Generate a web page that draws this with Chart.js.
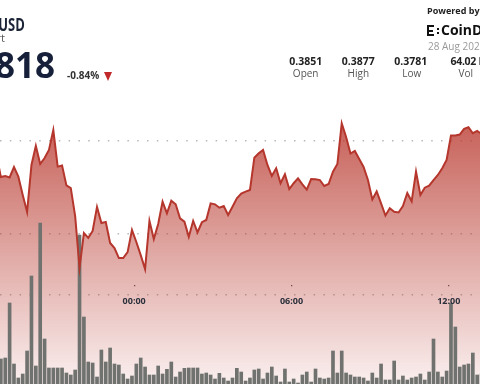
<!DOCTYPE html>
<html><head><meta charset="utf-8">
<script src="https://cdn.jsdelivr.net/npm/chart.js@4.4.1/dist/chart.umd.min.js"></script>
<style>
html,body{margin:0;padding:0;background:#fff;width:480px;height:384px;overflow:hidden;font-family:'Open Sans',sans-serif;}
#wrap{position:relative;width:480px;height:384px;overflow:hidden;}
canvas{position:absolute;left:0;top:0;}
.t{position:absolute;line-height:1;white-space:nowrap;}
.c{transform:translateX(-50%);}
.lg{position:absolute;background:#111;}
</style></head><body>
<div id="wrap">
<canvas id="c" width="480" height="384"></canvas>
<div class="t" style="right:455px;top:15px;font-size:18px;font-weight:700;color:#1b2336;transform:scaleX(0.72);transform-origin:right center">USD</div>
<div class="t" style="right:475px;top:32px;font-size:11px;color:#555">rt</div>
<div class="t" style="right:425px;top:47px;font-size:35px;font-weight:700;color:#17203a">0.3818</div>
<div class="t" style="left:67px;top:70px;font-size:10px;font-weight:700;color:#333">-0.84%</div>
<div style="position:absolute;left:104px;top:72px;width:0;height:0;border-left:4.5px solid transparent;border-right:4.5px solid transparent;border-top:9px solid #c0282a"></div>
<div class="t" style="left:427px;top:5.5px;font-size:9px;font-weight:700;color:#222">Powered by</div>
<div class="lg" style="left:427px;top:25px;width:2px;height:11px"></div>
<div class="lg" style="left:427px;top:25px;width:7px;height:2px"></div>
<div class="lg" style="left:429px;top:29.5px;width:4px;height:2px"></div>
<div class="lg" style="left:427px;top:34px;width:7px;height:2px"></div>
<div class="lg" style="left:436.5px;top:27.5px;width:2px;height:2px"></div>
<div class="lg" style="left:436.5px;top:32px;width:2px;height:2px"></div>
<div class="t" style="left:441px;top:23px;font-size:14px;font-weight:700;color:#111">CoinDesk</div>
<div class="t" style="left:428px;top:41.3px;font-size:10px;color:#999">28 Aug 2025</div>
<div class="t c" style="left:305.7px;top:55.5px;font-size:10.5px;font-weight:700;color:#222">0.3851</div>
<div class="t c" style="left:358.3px;top:55.5px;font-size:10.5px;font-weight:700;color:#222">0.3877</div>
<div class="t c" style="left:410.8px;top:55.5px;font-size:10.5px;font-weight:700;color:#222">0.3781</div>
<div class="t" style="left:450.5px;top:55.5px;font-size:10.5px;font-weight:700;color:#222;letter-spacing:-0.3px">64.02 M</div>
<div class="t c" style="left:305.7px;top:68px;font-size:10px;color:#555">Open</div>
<div class="t c" style="left:358.3px;top:68px;font-size:10px;color:#555">High</div>
<div class="t c" style="left:411.7px;top:68px;font-size:10px;color:#555">Low</div>
<div class="t c" style="left:465.8px;top:68px;font-size:10px;color:#555">Vol</div>
</div>
<script>
// ---- data (10-minute buckets, start time of each bucket) ----
const times = [
"18:40","18:50","19:00","19:10","19:20","19:30","19:40","19:50",
"20:00","20:10","20:20","20:30","20:40","20:50",
"21:00","21:10","21:20","21:30","21:40","21:50",
"22:00","22:10","22:20","22:30","22:40","22:50",
"23:00","23:10","23:20","23:30","23:40","23:50",
"00:00","00:10","00:20","00:30","00:40","00:50",
"01:00","01:10","01:20","01:30","01:40","01:50",
"02:00","02:10","02:20","02:30","02:40","02:50",
"03:00","03:10","03:20","03:30","03:40","03:50",
"04:00","04:10","04:20","04:30","04:40","04:50",
"05:00","05:10","05:20","05:30","05:40","05:50",
"06:00","06:10","06:20","06:30","06:40","06:50",
"07:00","07:10","07:20","07:30","07:40","07:50",
"08:00","08:10","08:20","08:30","08:40","08:50",
"09:00","09:10","09:20","09:30","09:40","09:50",
"10:00","10:10","10:20","10:30","10:40","10:50",
"11:00","11:10","11:20","11:30","11:40","11:50",
"12:00","12:10","12:20","12:30","12:40","12:50",
"13:00","13:10"
];
const prices = [
0.38422,
0.38304,0.38310,0.38302,0.38358,0.38306,0.38208,0.38117,0.38369,0.38471,0.38374,
0.38406,0.38449,0.38556,0.38360,0.38366,0.38259,0.38245,0.38095,0.37817,0.38004,
0.37978,0.38015,0.38144,0.38058,0.38063,0.37951,0.37924,0.37870,0.37870,0.37902,
0.38020,0.37956,0.37886,0.37811,0.38069,0.37972,0.38053,0.38172,0.38110,0.38177,
0.38158,0.38083,0.38065,0.37984,0.38069,0.38008,0.38062,0.38074,0.38163,0.38158,
0.38140,0.38149,0.38101,0.38145,0.38190,0.38215,0.38226,0.38235,0.38408,0.38431,
0.38449,0.38369,0.38310,0.38351,0.38271,0.38319,0.38240,0.38271,0.38297,0.38265,
0.38237,0.38293,0.38292,0.38288,0.38256,0.38267,0.38333,0.38374,0.38592,0.38519,
0.38430,0.38444,0.38401,0.38358,0.38288,0.38184,0.38227,0.38163,0.38098,0.38137,
0.38118,0.38114,0.38149,0.38219,0.38174,0.38333,0.38208,0.38247,0.38258,0.38288,
0.38315,0.38351,0.38396,0.38527,0.38527,0.38532,0.38562,0.38571,0.38539,0.38551,
0.38535
];
const volumesM = [
null,
0.75,0.78,2.43,0.60,0.18,0.30,0.99,3.24,0.54,4.83,
1.35,0.48,0.48,0.48,0.48,0.33,0.27,0.42,4.47,2.01,
0.66,0.63,0.21,1.02,0.66,1.08,0.60,0.57,0.30,0.15,
0.24,0.60,0.78,0.51,0.27,0.27,0.54,0.30,0.44,0.66,
0.21,0.36,0.47,0.48,0.48,0.48,0.30,0.33,0.27,0.15,
0.32,0.18,0.09,0.18,0.47,0.36,0.09,0.18,0.42,0.45,
0.15,0.33,0.51,0.24,0.06,0.45,0.06,0.15,0.03,0.27,
0.36,0.06,0.45,0.18,0.15,0.18,0.99,0.33,0.99,0.33,
0.27,0.21,0.21,0.18,0.09,0.33,0.18,0.60,0.12,0.12,
0.69,0.12,0.24,0.12,0.18,0.21,0.30,0.12,0.36,1.35,
0.36,0.21,0.39,2.43,1.71,0.51,0.57,0.60,0.93,0.27,
0.30
];
const tickLabels = ["00:00","06:00","12:00"];
const priceGridLines = [0.385, 0.380];
const axisLinePrice = 0.37675;

// ---- scale ranges (view window of the cropped chart) ----
const priceMin = 0.371951, priceMax = 0.392529;
const volumeMax = 11.52;
const xMin = -307.0, xMax = 791.4;   // minutes from 00:00
const bucketMinutes = 10;

function toMinutes(list){
  const out = []; let offset = -1440; let prev = null;
  for (const s of list){
    const [h,m] = s.split(':').map(Number);
    let v = h*60+m;
    if (prev !== null && v + offset < prev) offset += 1440;
    v += offset; out.push(v); prev = v;
  }
  return out;
}
const startMin = toMinutes(times);
const centers = startMin.map(v => v + bucketMinutes/2);
const tickMinutes = toMinutes(tickLabels).map(v => v + 1440);
const pricePts = centers.map((x,i) => ({x, y: prices[i]}));
const volPts = centers.map((x,i) => ({x, y: volumesM[i]}));

function areaGradient(c){
  const ch = c.chart; const {ctx, chartArea, scales} = ch;
  if (!chartArea) return 'rgba(185,60,50,0.4)';
  const top = scales.y.getPixelForValue(Math.max(...prices));
  const g = ctx.createLinearGradient(0, top, 0, chartArea.bottom);
  g.addColorStop(0, 'rgba(185,58,48,0.80)');
  g.addColorStop(1, 'rgba(185,58,48,0.08)');
  return g;
}

// time labels drawn under the dotted axis line, positioned by the scales
const timeLabelPlugin = {
  id: 'timeLabels',
  afterDatasetsDraw(chart){
    const {ctx, scales} = chart;
    const yLine = scales.y.getPixelForValue(axisLinePrice);
    ctx.save();
    ctx.font = 'bold 9px "Open Sans"';
    ctx.fillStyle = '#2b303b';
    ctx.textAlign = 'center';
    ctx.textBaseline = 'alphabetic';
    tickMinutes.forEach((v, i) => {
      ctx.fillText(tickLabels[i], scales.x.getPixelForValue(v), yLine + 10);
    });
    ctx.restore();
  }
};

new Chart(document.getElementById('c'), {
  data: { datasets: [
    { type:'line', label:'area', data: pricePts, yAxisID:'y', borderWidth:0, pointRadius:0,
      fill:'start', backgroundColor: areaGradient, tension:0, order:3 },
    { type:'bar', label:'Volume', data: volPts, yAxisID:'yv', backgroundColor:'#6f726e',
      borderWidth:0, barThickness:3, order:2 },
    { type:'line', label:'Price', data: pricePts, yAxisID:'y', borderColor:'#b5362c', borderWidth:2,
      pointRadius:0, fill:false, tension:0, order:1 }
  ]},
  options: {
    responsive:false, animation:false, devicePixelRatio:1,
    layout:{padding:0},
    plugins:{legend:{display:false}, tooltip:{enabled:false}},
    scales:{
      x:{ type:'linear', min:xMin, max:xMax, position:'top', offset:false,
          afterBuildTicks: s => { s.ticks = tickMinutes.map(v => ({value:v})); },
          ticks:{ display:false },
          grid:{ drawTicks:false, drawOnChartArea:true, offset:false, color:'#555', lineWidth:1.3 },
          border:{ display:false, dash:[1.3, 2000], dashOffset:-285 } },
      y:{ type:'linear', min:priceMin, max:priceMax, position:'left',
          afterBuildTicks: s => { s.ticks = priceGridLines.concat([axisLinePrice]).map(v => ({value:v})); },
          ticks:{ display:false },
          grid:{ drawTicks:false, color:'rgba(125,125,125,0.55)', lineWidth:1.5 },
          border:{ display:false, dash:[1.5, 8.3] } },
      yv:{ type:'linear', min:0, max:volumeMax, display:false }
    }
  },
  plugins:[timeLabelPlugin]
});
</script>
</body></html>
